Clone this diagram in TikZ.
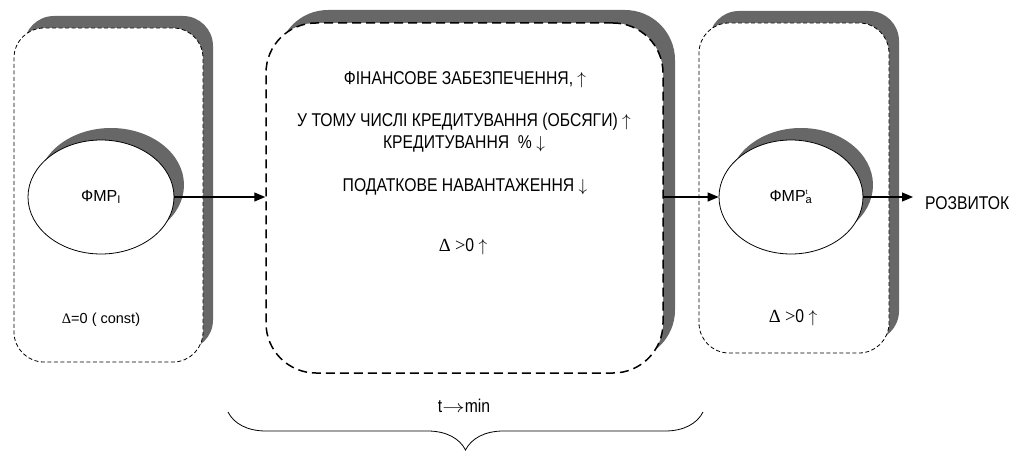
\documentclass[tikz,border=0pt]{standalone}
\usepackage{fontspec}
\setmainfont{Liberation Sans}
\newfontfamily\tnr{Liberation Serif}
\newfontfamily\cond[FakeStretch=0.85]{Liberation Sans}
\usetikzlibrary{shapes.geometric,arrows.meta,shadows,decorations.pathreplacing}
\definecolor{shadowgray}{HTML}{676767}
\newcommand{\upar}{$\uparrow$}
\newcommand{\dnar}{$\downarrow$}
\tikzset{
  sh/.style={general shadow={fill=shadowgray, draw=none, shadow xshift=10pt, shadow yshift=12pt}},
  smallbox/.style={draw, fill=white, rounded corners=30pt, line width=0.8pt, dash pattern=on 4pt off 2.5pt, inner sep=0pt, sh},
  bigbox/.style={draw, fill=white, rounded corners=50pt, line width=1.5pt, dash pattern=on 9pt off 5pt, inner sep=0pt,
     general shadow={fill=shadowgray, draw=none, shadow xshift=12pt, shadow yshift=13pt}},
  oval/.style={ellipse, draw, fill=white, line width=0.8pt, inner sep=0pt, minimum width=146pt, minimum height=114pt, sh, font=\fontsize{16}{18}\selectfont},
  txt/.style={inner sep=0pt, font=\cond\fontsize{18.5}{22}\selectfont},
  arr/.style={line width=1.2pt, -{Triangle[length=11pt,width=9pt]}}
}
\begin{document}
\begin{tikzpicture}[x=1pt,y=-1pt]
\useasboundingbox (0,0) rectangle (1012,452);
% boxes
\node[smallbox, minimum width=189pt, minimum height=334pt] (L) at (108.5,195) {};
\node[bigbox, minimum width=397pt, minimum height=350pt] (M) at (464.5,198) {};
\node[smallbox, minimum width=190pt, minimum height=330pt] (R) at (794,188) {};
% ellipses
\node[oval] (e1) at (101,197) {ФМР\textsubscript{I}};
\node[oval, minimum width=144pt] (e2) at (791,197) {ФМР\rlap{\textsuperscript{\scriptsize t}}\textsubscript{a}};
% texts
\node[txt, font=\fontsize{14.5}{16}\selectfont] (c1) at (101,320) {{\tnr Δ}=0 ( const)};
\node[txt] (m1) at (465,80) {ФІНАНСОВЕ ЗАБЕЗПЕЧЕННЯ, \upar};
\node[txt, align=center] (m2) at (464,132.5) {У ТОМУ ЧИСЛІ КРЕДИТУВАННЯ (ОБСЯГИ) \upar\\КРЕДИТУВАННЯ \ \% \dnar};
\node[txt] (m4) at (465,187) {ПОДАТКОВЕ НАВАНТАЖЕННЯ \dnar};
\node[txt] (m5) at (463,247) {{\tnr Δ} {\tnr >}0 \upar};
\node[txt] (r1) at (793,318) {{\tnr Δ} {\tnr >}0 \upar};
\node[txt, anchor=west] (dev) at (925,203) {РОЗВИТОК};
\node[txt] (tm) at (464,406) {t\scalebox{1.3}[1]{$\rightarrow$}min};
% connectors
\coordinate (tipA) at (913,197);
\draw[arr] (e1.east) -- (e1.east -| M.west);
\draw[arr] (M.east |- e2.west) -- (e2.west);
\draw[arr] (e2.east) -- (tipA);
% brace
\coordinate (bl) at (228,412);
\coordinate (br) at (703,412);
\draw[line width=0.8pt, decorate, decoration={brace, mirror, amplitude=38pt}] (bl) -- (br);
\end{tikzpicture}
\end{document}
